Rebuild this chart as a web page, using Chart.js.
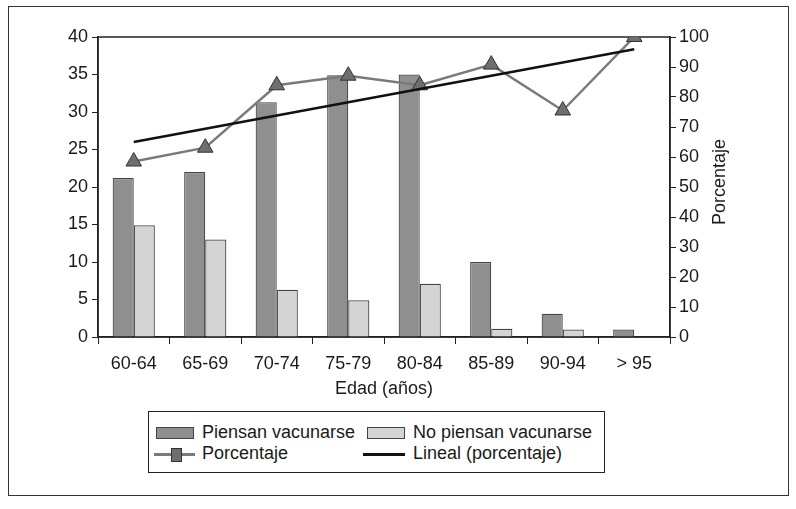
<!DOCTYPE html>
<html>
<head>
<meta charset="utf-8">
<script src="https://cdn.jsdelivr.net/npm/chart.js@4"></script>
<style>
  body { margin: 0; background: #fff; font-family: "Liberation Sans", Arial, sans-serif; color: #1a1a1a; }
  #wrap { position: relative; width: 796px; height: 509px; }
  #frame { position: absolute; left: 8px; top: 6px; width: 779px; height: 488px; border: 1px solid #333; }
  #chartBox { position: absolute; left: 0; top: 0; width: 796px; height: 400px; }
  #legend { position: absolute; left: 148px; top: 411px; width: 455px; height: 60px; border: 1px solid #222; font-size: 18px; }
  .item { position: absolute; white-space: nowrap; line-height: 20px; }
  .sw { position: absolute; }
</style>
</head>
<body>
<div id="wrap">
  <div id="frame"></div>
  <div id="chartBox"><canvas id="chart"></canvas></div>
  <div id="legend">
    <div class="sw" style="left:7px;top:15px;width:36px;height:10px;background:#8f8f8f;border:1px solid #444"></div>
    <div class="item" style="left:53px;top:10px">Piensan vacunarse</div>
    <div class="sw" style="left:218px;top:15px;width:36px;height:10px;background:#d4d4d4;border:1px solid #444"></div>
    <div class="item" style="left:264px;top:10px">No piensan vacunarse</div>
    <div class="sw" style="left:5px;top:41px;width:41px;height:3px;background:#7a7a7a"></div>
    <div class="sw" style="left:22px;top:36px;width:9px;height:12px;background:#6e6e6e;border:1px solid #333"></div>
    <div class="item" style="left:53px;top:31px">Porcentaje</div>
    <div class="sw" style="left:214px;top:41px;width:42px;height:3px;background:#111"></div>
    <div class="item" style="left:264px;top:31px">Lineal (porcentaje)</div>
  </div>
</div>
<script>
// Data
const ageGroups = ['60-64', '65-69', '70-74', '75-79', '80-84', '85-89', '90-94', '> 95'];
const piensanVacunarse = [21.2, 22, 31.3, 34.9, 35, 10, 3.1, 1];
const noPiensanVacunarse = [14.9, 13, 6.3, 4.9, 7.1, 1.1, 1, 0];
const porcentaje = [58.5, 63.1, 83.9, 87.1, 83.9, 90.8, 75.5, 100];
// trend line: only its two ends, joined straight across
const linealPorcentaje = [65, null, null, null, null, null, null, 95.9];

const FONT = { family: '"Liberation Sans", Arial, sans-serif', size: 18 };
const INK = '#1a1a1a';

// Draws the box round the plot area and the rotated right title
const frameAndTitle = {
  id: 'frameAndTitle',
  beforeDatasetsDraw(chart) {
    const a = chart.chartArea, ctx = chart.ctx;
    ctx.save();
    ctx.strokeStyle = '#222';
    ctx.lineWidth = 1.5;
    ctx.strokeRect(a.left, a.top, a.right - a.left, a.bottom - a.top);
    ctx.restore();
  },
  afterDraw(chart) {
    const ctx = chart.ctx;
    ctx.save();
    ctx.translate(720, 182);
    ctx.rotate(-Math.PI / 2);
    ctx.font = '18px "Liberation Sans", Arial, sans-serif';
    ctx.fillStyle = INK;
    ctx.textAlign = 'center';
    ctx.textBaseline = 'middle';
    ctx.fillText('Porcentaje', 0, 0);
    ctx.restore();
  }
};

new Chart(document.getElementById('chart'), {
  data: {
    labels: ageGroups,
    datasets: [
      {
        type: 'line', label: 'Lineal (porcentaje)', data: linealPorcentaje, yAxisID: 'y1',
        borderColor: '#111', borderWidth: 2.5, pointRadius: 0, spanGaps: true, order: 1
      },
      {
        type: 'line', label: 'Porcentaje', data: porcentaje, yAxisID: 'y1',
        borderColor: '#7a7a7a', borderWidth: 2.5, pointStyle: 'triangle', pointRadius: 9,
        pointBackgroundColor: '#6e6e6e', pointBorderColor: '#333', pointBorderWidth: 1, order: 2
      },
      {
        type: 'bar', label: 'Piensan vacunarse', data: piensanVacunarse, yAxisID: 'y',
        backgroundColor: '#8f8f8f', borderColor: '#444', borderWidth: 1.2,
        categoryPercentage: 0.59, barPercentage: 1, order: 3
      },
      {
        type: 'bar', label: 'No piensan vacunarse', data: noPiensanVacunarse, yAxisID: 'y',
        backgroundColor: '#d4d4d4', borderColor: '#444', borderWidth: 1.2,
        categoryPercentage: 0.59, barPercentage: 1, order: 3
      }
    ]
  },
  options: {
    responsive: true,
    maintainAspectRatio: false,
    animation: false,
    layout: { padding: { left: 0, top: 37, right: 68, bottom: 0 } },
    plugins: { legend: { display: false }, tooltip: { enabled: false } },
    scales: {
      x: {
        grid: { offset: true, drawOnChartArea: false, tickLength: 7, color: '#222' },
        border: { color: '#222', width: 1.5 },
        ticks: { font: FONT, color: INK, padding: 9, maxRotation: 0 },
        title: { display: true, text: 'Edad (años)', font: FONT, color: INK, padding: { top: 0, bottom: 0 } },
        afterFit(scale) { scale.height = 63; }
      },
      y: {
        position: 'left', min: 0, max: 40,
        grid: { drawOnChartArea: false, tickLength: 6, color: '#222' },
        border: { color: '#222', width: 1.5 },
        ticks: { stepSize: 5, font: FONT, color: INK, padding: 4 },
        afterFit(scale) { scale.width = 98; }
      },
      y1: {
        position: 'right', min: 0, max: 100,
        grid: { drawOnChartArea: false, tickLength: 6, color: '#222' },
        border: { color: '#222', width: 1.5 },
        ticks: { stepSize: 10, font: FONT, color: INK, padding: 3 },
        afterFit(scale) { scale.width = 58; }
      }
    }
  },
  plugins: [frameAndTitle]
});
</script>
</body>
</html>
